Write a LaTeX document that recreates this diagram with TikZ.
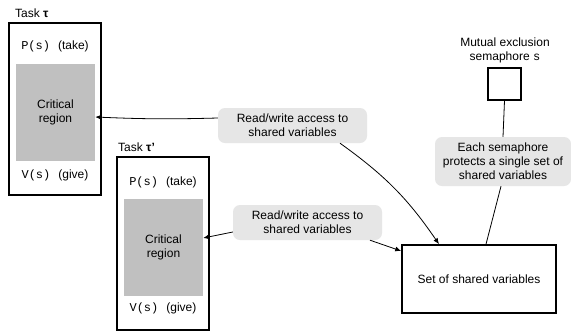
\documentclass[tikz,border=0pt]{standalone}
\usepackage{fontspec}
\setmainfont{Liberation Sans}
\setmonofont{Liberation Mono}
\usetikzlibrary{arrows.meta}
\definecolor{bubblegrey}{HTML}{E6E6E6}
\definecolor{critgrey}{HTML}{C0C0C0}
\tikzset{
  taskbox/.style={draw=black, line width=1.6bp, minimum width=92bp, minimum height=172bp, inner sep=0pt},
  critbox/.style={fill=critgrey, draw=none, minimum width=79bp, minimum height=97bp, align=center, inner sep=0pt},
  bubble/.style={fill=bubblegrey, draw=none, rounded corners=7bp, align=center, inner sep=0pt},
  plainbox/.style={draw=black, line width=1.6bp, inner sep=0pt, align=center},
  lbl/.style={inner sep=0pt, align=center},
  conn/.style={draw=black, line width=0.8bp},
  arr/.style={conn, -{Latex[length=6bp,width=5bp]}},
}
\begin{document}
\begin{tikzpicture}[x=1bp, y=-1bp, font=\fontsize{12bp}{14bp}\selectfont]
\useasboundingbox (0,0) rectangle (571,331);
\fill[white] (0,0) rectangle (571,331);

% Task tau
\node[taskbox] (t1) at (55,109) {};
\node[critbox] (g1) at (55.5,112.5) {Critical\\region};
\node[lbl, anchor=west] (t1lbl) at (15,13) {Task \textbf{τ}};
\node[lbl] (t1p) at (55,46) {\texttt{P(s)}\hspace{8bp}(take)};
\node[lbl] (t1v) at (55,175) {\texttt{V(s)}\hspace{8bp}(give)};

% Task tau'
\node[taskbox, minimum height=173bp] (t2) at (163,243.5) {};
\node[critbox] (g2) at (163.5,247.5) {Critical\\region};
\node[lbl, anchor=west] (t2lbl) at (118,147) {Task \textbf{τ'}};
\node[lbl] (t2p) at (163,182) {\texttt{P(s)}\hspace{8bp}(take)};
\node[lbl] (t2v) at (163,308) {\texttt{V(s)}\hspace{8bp}(give)};

% Bubbles
\node[bubble, minimum width=149bp, minimum height=35bp] (b1) at (292.5,125.5) {Read/write access to\\shared variables};
\node[bubble, minimum width=149bp, minimum height=35bp] (b2) at (307.5,222.5) {Read/write access to\\shared variables};
\node[bubble, minimum width=136bp, minimum height=49bp] (b3) at (503,161.5) {Each semaphore\\protects a single set of\\shared variables};

% Semaphore
\node[plainbox, minimum width=33bp, minimum height=32bp] (sem) at (504.5,84) {};
\node[lbl] (semlbl) at (505,50) {Mutual exclusion\\semaphore \texttt{s}};

% Set of shared variables
\node[plainbox, minimum width=154bp, minimum height=68bp] (set) at (479,279) {Set of shared variables};

% Connectors
\draw[arr] ([yshift=7.5bp]b1.west) to[bend left=2] ([yshift=-4.5bp]g1.east);
\draw[arr] ([xshift=47.5bp]b1.south) to[bend left=10] ([xshift=-40bp]set.north);
\draw[arr] ([yshift=-9.5bp]b2.west) -- ([yshift=9.5bp]g2.east);
\draw[arr] ([xshift=62.5bp]b2.south) -- ([yshift=28bp]set.west);
\draw[conn] (sem.south) -- (b3.north);
\draw[conn] ([xshift=-2bp]b3.south) -- ([xshift=7bp]set.north);
\end{tikzpicture}
\end{document}
